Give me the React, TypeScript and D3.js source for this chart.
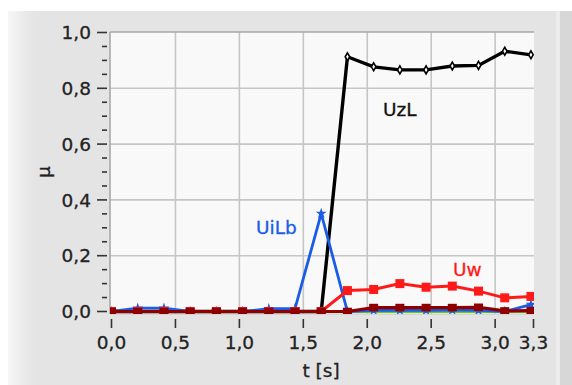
import React from "react";
import * as d3 from "d3";

const times = [0, 0.205, 0.41, 0.615, 0.82, 1.025, 1.23, 1.435, 1.64, 1.845, 2.05, 2.255, 2.46, 2.665, 2.87, 3.075, 3.28];
const uzl = [0, 0, 0, 0, 0, 0, 0, 0, 0, 0.913, 0.877, 0.866, 0.866, 0.88, 0.882, 0.933, 0.92];
const uilb = [0, 0.012, 0.012, 0, 0, 0, 0.01, 0.01, 0.351, 0, 0.004, 0.004, 0.004, 0.005, 0.004, 0, 0.025];
const uw = [0, 0, 0, 0, 0, 0, 0, 0, 0, 0.075, 0.079, 0.1, 0.087, 0.091, 0.073, 0.049, 0.054];
const uDark = [0, 0, 0, 0, 0, 0, 0, 0, 0, 0, 0.014, 0.014, 0.014, 0.014, 0.015, 0.002, 0.003];
const uGreen = [0, 0, 0, 0, 0, 0, 0, 0, 0, 0, 0, 0, 0, 0, 0, 0, 0];

const xTicks = [0, 0.5, 1.0, 1.5, 2.0, 2.5, 3.0, 3.3];
const xGrid = [0.5, 1.0, 1.5, 2.0, 2.5, 3.0];
const yTicks = [0, 0.2, 0.4, 0.6, 0.8, 1.0];
const yMinor = [0.05, 0.1, 0.15, 0.25, 0.3, 0.35, 0.45, 0.5, 0.55, 0.65, 0.7, 0.75, 0.85, 0.9, 0.95];
const yGrid = [0.2, 0.4, 0.6, 0.8];

const FONT = "'DejaVu Sans', sans-serif";
const fmt = (v: number) => v.toFixed(1).replace(".", ",");

export default function App() {
  const left = 110, right = 534, top = 32, bottom = 314;
  const x = d3.scaleLinear().domain([0, 3.3]).range([111.5, 533.5]);
  const y = d3.scaleLinear().domain([0, 1]).range([311.5, 32.5]);

  const mk = (vals: number[]) =>
    d3.line<number>().x((_, i) => x(times[i])).y((v) => y(v))(vals) || "";

  const star = d3.symbol().type(d3.symbolStar).size(36)() || "";
  const diamond = d3.symbol().type(d3.symbolDiamond).size(18)() || "";
  const txt = { fontFamily: FONT, fontSize: 18.5, stroke: "currentColor", strokeWidth: 0.3 };

  return (
    <svg width={572} height={385} style={{ position: "absolute", left: 0, top: 0 }}>
      <defs>
        <linearGradient id="lg" x1="0" x2="1" y1="0" y2="0">
          <stop offset="0" stopColor="#f6f6f6" />
          <stop offset="1" stopColor="#e4e4e4" />
        </linearGradient>
        <clipPath id="clip">
          <rect x={left} y={top} width={right - left} height={bottom - top} />
        </clipPath>
      </defs>
      <rect x={0} y={0} width={572} height={385} fill="#ffffff" />
      <rect x={8} y={11} width={550} height={374} fill="#e4e4e4" />
      <rect x={8} y={11} width={26} height={374} fill="url(#lg)" />
      <rect x={556} y={11} width={4} height={374} fill="#ececec" />
      <rect x={560} y={11} width={12} height={374} fill="#d7d7d7" />

      <rect x={left} y={top} width={right - left} height={bottom - top} fill="#f9f9f9" />
      {xGrid.map((v) => (
        <line key={"gx" + v} x1={x(v)} x2={x(v)} y1={top} y2={bottom} stroke="#c6c6c6" strokeWidth={1.6} />
      ))}
      {yGrid.map((v) => (
        <line key={"gy" + v} x1={left} x2={right} y1={y(v)} y2={y(v)} stroke="#c6c6c6" strokeWidth={1.6} />
      ))}
      <line x1={left} x2={right} y1={top} y2={top} stroke="#a8a8a8" strokeWidth={1.6} />
      <line x1={left} x2={left} y1={top} y2={bottom} stroke="#a8a8a8" strokeWidth={1.6} />
      <line x1={left} x2={right} y1={bottom} y2={bottom} stroke="#c6c6c6" strokeWidth={1} />

      <g clipPath="url(#clip)">
        <path d={mk(uGreen)} fill="none" stroke="#66cc22" strokeWidth={3} />
        <path d={mk(uzl)} fill="none" stroke="#000" strokeWidth={3.4} />
        {uzl.map((v, i) =>
          i >= 9 ? (
            <path key={"dz" + i} d={diamond} transform={`translate(${x(times[i])},${y(v)})`} fill="#fff" stroke="#000" strokeWidth={1.6} />
          ) : null
        )}
        <path d={mk(uilb)} fill="none" stroke="#1a5ce6" strokeWidth={2.8} />
        {uilb.map((v, i) => (
          <path key={"sb" + i} d={star} transform={`translate(${x(times[i])},${y(v)})`} fill="#1a5ce6" />
        ))}
        <path d={mk(uw)} fill="none" stroke="#ff1a1a" strokeWidth={3} />
        {uw.map((v, i) => (
          <rect key={"rw" + i} x={x(times[i]) - 4.5} y={y(v) - 4.5} width={9} height={9} fill="#ff1a1a" />
        ))}
        <path d={mk(uDark)} fill="none" stroke="#8e0000" strokeWidth={3.2} />
        {uDark.map((v, i) => (
          <rect key={"rd" + i} x={x(times[i]) - 4.5} y={y(v) - 3.8} width={9} height={7.6} fill="#8e0000" />
        ))}
      </g>

      {yTicks.map((v) => (
        <g key={"yt" + v} style={{ color: "#222" }}>
          <line x1={97} x2={107} y1={y(v)} y2={y(v)} stroke="#333" strokeWidth={1.6} />
          <text x={91} y={y(v)} dy="0.36em" textAnchor="end" {...txt} fill="#222">
            {fmt(v)}
          </text>
        </g>
      ))}
      {yMinor.map((v) => (
        <line key={"ym" + v} x1={102} x2={107} y1={y(v)} y2={y(v)} stroke="#333" strokeWidth={1.6} />
      ))}
      {xTicks.map((v) => (
        <g key={"xt" + v} style={{ color: "#222" }}>
          <line x1={x(v)} x2={x(v)} y1={319} y2={328} stroke="#333" strokeWidth={1.6} />
          <text x={x(v)} y={349} textAnchor="middle" {...txt} fill="#222">
            {fmt(v)}
          </text>
        </g>
      ))}

      <g style={{ color: "#222" }}>
        <text x={321} y={377} textAnchor="middle" {...txt} fill="#222">t [s]</text>
        <text transform="translate(50,172) rotate(-90)" textAnchor="middle" {...txt} fill="#222">μ</text>
      </g>

      <text x={383} y={116} {...txt} style={{ color: "#111" }} fill="#111">UzL</text>
      <text x={256} y={234} {...txt} style={{ color: "#1a5ce6" }} fill="#1a5ce6">UiLb</text>
      <text x={453} y={276} {...txt} style={{ color: "#ff1a1a" }} fill="#ff1a1a">Uw</text>
    </svg>
  );
}
